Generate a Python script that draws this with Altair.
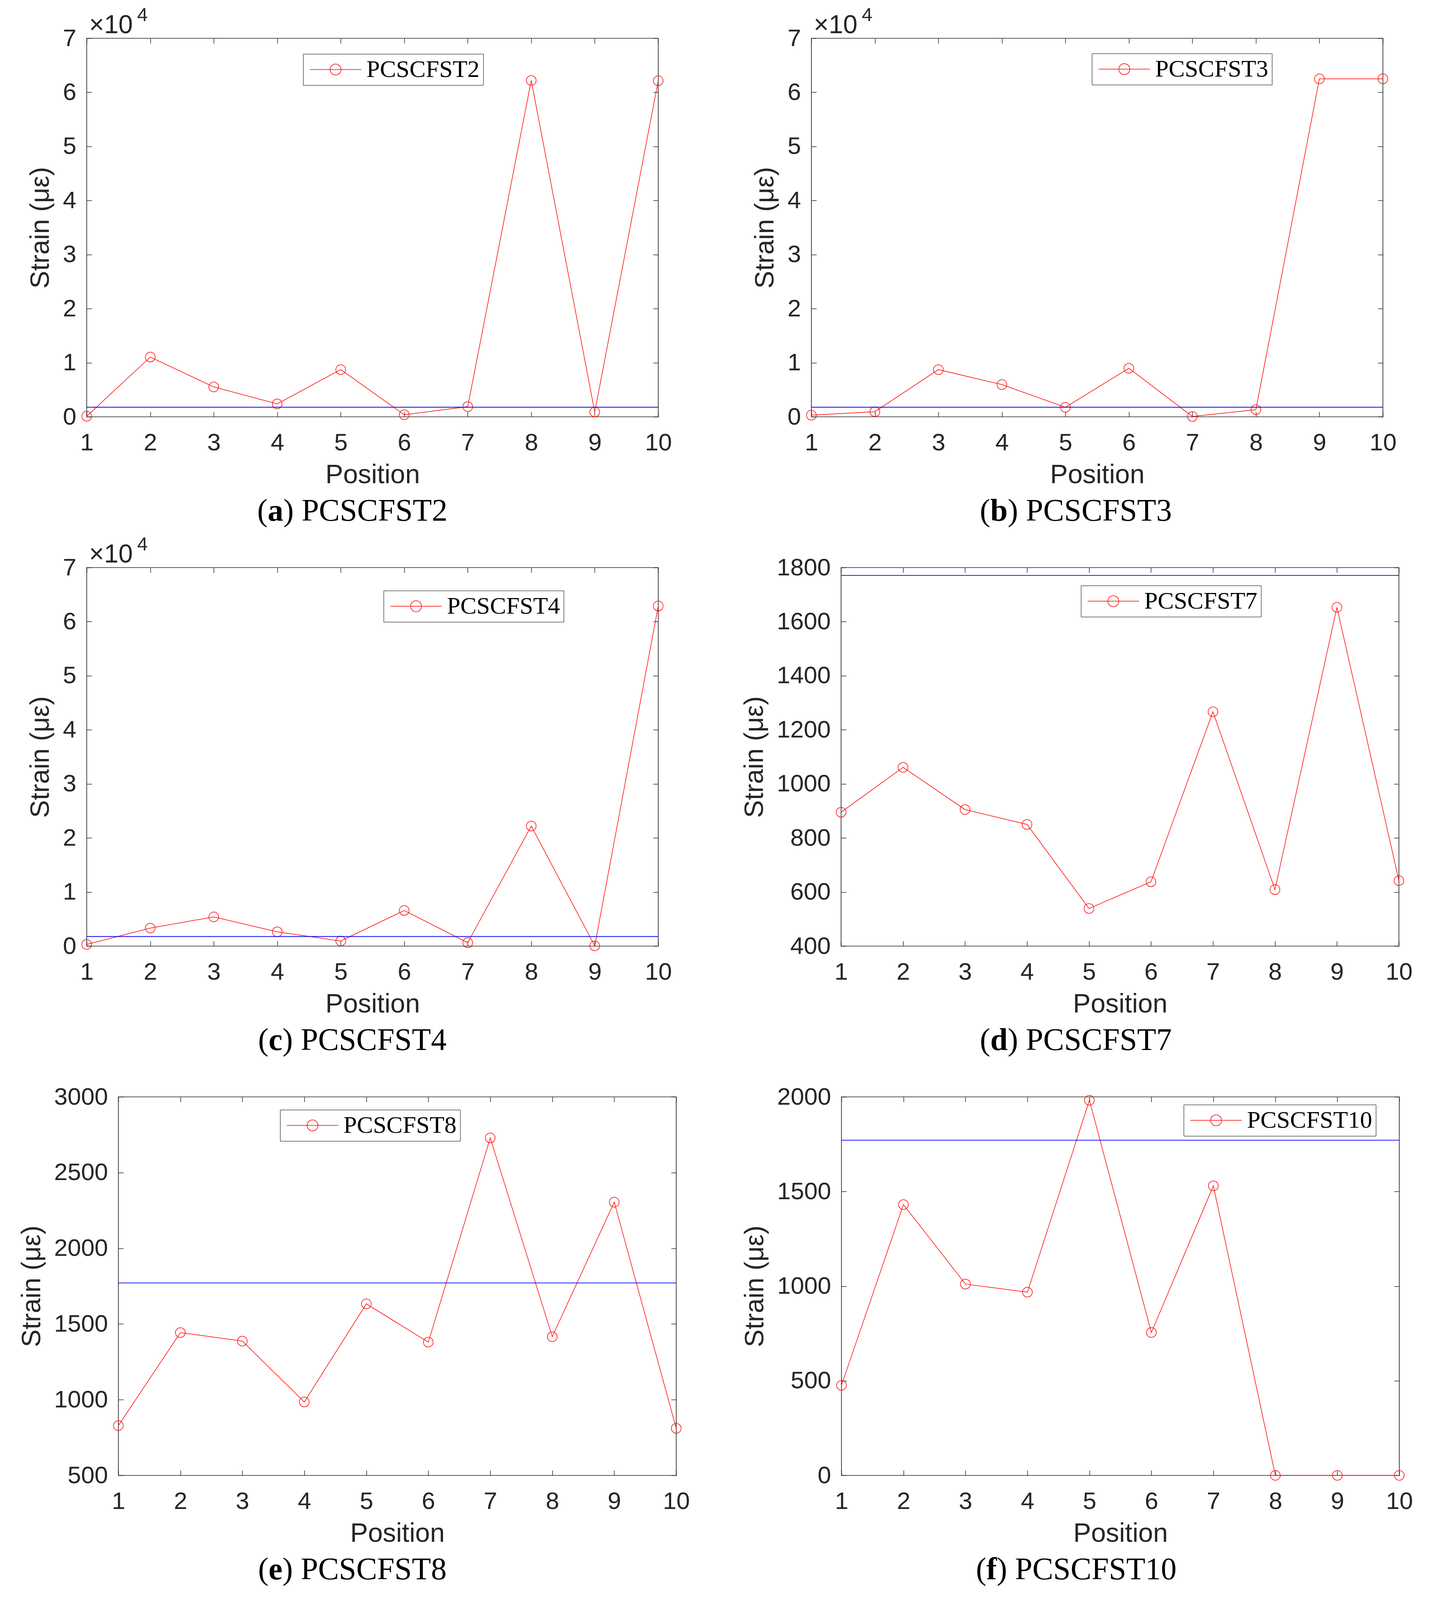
import altair as alt
import pandas as pd

# ---------------- data ----------------
positions = [1, 2, 3, 4, 5, 6, 7, 8, 9, 10]
series_names = ["PCSCFST2", "PCSCFST3", "PCSCFST4", "PCSCFST7", "PCSCFST8", "PCSCFST10"]
caption_letters = ["a", "b", "c", "d", "e", "f"]

strain_pcscfst2 = [100, 11050, 5520, 2390, 8730, 380, 1880, 62200, 900, 62150]
strain_pcscfst3 = [300, 940, 8730, 5960, 1760, 8980, 50, 1320, 62500, 62500]
strain_pcscfst4 = [310, 3330, 5400, 2640, 940, 6590, 630, 22200, 50, 62900]
strain_pcscfst7 = [895, 1061, 905, 850, 539, 638, 1267, 609, 1653, 642]
strain_pcscfst8 = [829, 1443, 1387, 985, 1633, 1380, 2729, 1416, 2305, 811]
strain_pcscfst10 = [476, 1431, 1011, 968, 1982, 755, 1530, 0, 0, 0]
strains = [strain_pcscfst2, strain_pcscfst3, strain_pcscfst4,
           strain_pcscfst7, strain_pcscfst8, strain_pcscfst10]

threshold = [1771]

y_domains = [[0, 70000], [0, 70000], [0, 70000], [400, 1800], [500, 3000], [0, 2000]]
y_ticks = [
    [0, 10000, 20000, 30000, 40000, 50000, 60000, 70000],
    [0, 10000, 20000, 30000, 40000, 50000, 60000, 70000],
    [0, 10000, 20000, 30000, 40000, 50000, 60000, 70000],
    [400, 600, 800, 1000, 1200, 1400, 1600, 1800],
    [500, 1000, 1500, 2000, 2500, 3000],
    [0, 500, 1000, 1500, 2000],
]
scaled_1e4 = [True, True, True, False, False, False]

# ---------------- layout / style ----------------
V = 0.878   # vertical compression so the whole figure fits the rendered page height
widths = [1463, 1463, 1463, 1428, 1428, 1428]
H = round(1104 * V)
LEFT_EXT = -212
TOP_EXT, BOT_EXT = round(-100 * V), round(1438 * V)
legend_pos = [(554, 46), (718, 44), (760, 67), (614, 52), (414, 38), (876, 23)]
caption_cx = [680, 677, 680, 601, 599, 601]

AX = "#262626"
SANS = "Liberation Sans"
SERIF = "Liberation Serif"
TICK_FS = 62
TITLE_FS = 68
CAP_FS = 80
LEG_FS = 62
SYMBOL_PATH = "M-4.7,0H4.7M1,0A1,1 0 1,1 -1,0A1,1 0 1,1 1,0"

serif_w = {"(": 0.333, ")": 0.333, " ": 0.25, "P": 0.556, "C": 0.667, "S": 0.556,
           "F": 0.556, "T": 0.611, "0": 0.5, "1": 0.5, "2": 0.5, "3": 0.5,
           "4": 0.5, "7": 0.5, "8": 0.5}
bold_w = {"a": 0.5, "b": 0.556, "c": 0.444, "d": 0.556, "e": 0.444, "f": 0.333}

one_df = pd.DataFrame({"k": [0]})


def text_layer(txt, x, y, size, font, align="left", weight="normal", color="black"):
    return alt.Chart(one_df).mark_text(
        text=txt, font=font, fontSize=size, align=align, baseline="alphabetic",
        fontWeight=weight, color=color
    ).encode(x=alt.value(x), y=alt.value(y))


def anchor(x, y):
    return alt.Chart(one_df).mark_point(opacity=0, size=1, strokeWidth=0).encode(
        x=alt.value(x), y=alt.value(y))


def panel(i, left_anchor):
    w = widths[i]
    name = series_names[i]
    df = pd.DataFrame({"Position": positions, "Strain": strains[i], "Series": [name] * 10})
    xs = alt.Scale(domain=[1, 10], nice=False, zero=False)
    ys = alt.Scale(domain=y_domains[i], nice=False, zero=False)
    ylab = "format(datum.value / 10000, 'd')" if scaled_1e4[i] else "format(datum.value, 'd')"
    lx, ly = legend_pos[i]

    line = alt.Chart(df).mark_line(
        strokeWidth=1.5,
        point=alt.OverlayMarkDef(shape="circle", filled=False, size=625, strokeWidth=1.5),
    ).encode(
        x=alt.X("Position:Q", scale=xs, axis=alt.Axis(
            orient="bottom", values=positions, format="d", ticks=False, tickSize=0,
            domain=False, grid=False, labelFont=SANS, labelFontSize=TICK_FS, labelColor=AX,
            labelPadding=36, labelFlush=False, labelOverlap=False,
            title="Position", titleFont=SANS, titleFontSize=TITLE_FS, titleFontWeight="normal",
            titleColor=AX, titlePadding=18)),
        y=alt.Y("Strain:Q", scale=ys, axis=alt.Axis(
            orient="left", values=y_ticks[i], labelExpr=ylab, ticks=False, tickSize=0,
            domain=False, grid=False, labelFont=SANS, labelFontSize=TICK_FS, labelColor=AX,
            labelPadding=27, labelFlush=False, labelOverlap=False,
            title="Strain (με)", titleFont=SANS, titleFontSize=TITLE_FS, titleFontWeight="normal",
            titleColor=AX, titlePadding=22)),
        stroke=alt.Stroke("Series:N", scale=alt.Scale(domain=[name], range=["#FF0000"]),
                          legend=alt.Legend(
                              title=None, orient="none", legendX=lx, legendY=round(ly * V),
                              symbolType=SYMBOL_PATH, symbolSize=784, symbolStrokeWidth=1.5,
                              symbolFillColor="transparent", symbolStrokeColor="#FF0000",
                              symbolOffset=43, labelOffset=48, labelFont=SERIF,
                              labelFontSize=LEG_FS, labelColor="black", labelLimit=2000,
                              padding=9, strokeColor="black", fillColor="white")),
    )

    df_thr = pd.DataFrame({"Threshold": threshold})
    rule = alt.Chart(df_thr).mark_rule(color="#0000FF", strokeWidth=1.8).encode(
        y=alt.Y("Threshold:Q", scale=ys, axis=None)
    )

    tick_style = dict(labels=False, domain=False, grid=False, ticks=True, tickSize=13,
                      tickColor=AX, tickWidth=1.5, title=None)
    ticks_a = alt.Chart(df).mark_point(opacity=0, size=1).encode(
        x=alt.X("Position:Q", scale=xs, axis=alt.Axis(orient="top", offset=-H, values=positions, **tick_style)),
        y=alt.Y("Strain:Q", scale=ys, axis=alt.Axis(orient="right", offset=-w, values=y_ticks[i], **tick_style)),
    )
    ticks_b = alt.Chart(df).mark_point(opacity=0, size=1).encode(
        x=alt.X("Position:Q", scale=xs, axis=alt.Axis(orient="bottom", offset=-H, values=positions, **tick_style)),
        y=alt.Y("Strain:Q", scale=ys, axis=alt.Axis(orient="left", offset=-w, values=y_ticks[i], **tick_style)),
    )

    # caption "(x) NAME" with bold letter
    letter = caption_letters[i]
    rest = ") " + name
    total = (serif_w["("] + bold_w[letter] + sum(serif_w[c] for c in rest)) * CAP_FS
    x0 = caption_cx[i] - total / 2
    cy = H + round(303 * V)
    cap = [
        text_layer("(", x0, cy, CAP_FS, SERIF),
        text_layer(letter, x0 + serif_w["("] * CAP_FS, cy, CAP_FS, SERIF, weight="bold"),
        text_layer(rest, x0 + (serif_w["("] + bold_w[letter]) * CAP_FS, cy, CAP_FS, SERIF),
    ]
    layers = [line, rule, ticks_a, ticks_b] + cap
    if scaled_1e4[i]:
        layers += [
            text_layer("×10", 6, round(-15 * V), 66, SANS, color=AX),
            text_layer("4", 129, round(-50 * V), 49, SANS, color=AX),
        ]
    layers += [anchor(0, TOP_EXT), anchor(0, BOT_EXT)]
    if left_anchor:
        layers += [anchor(LEFT_EXT, 0)]
    return alt.layer(*layers).resolve_axis(x="independent", y="independent").properties(
        width=w, height=H)


def spacer(width, with_anchor):
    layers = [anchor(0, TOP_EXT), anchor(0, BOT_EXT)]
    if with_anchor:
        layers.append(anchor(LEFT_EXT, 0))
    return alt.layer(*layers).properties(
        width=width, height=H, view=alt.ViewBackground(stroke="transparent"))


pa, pb, pc, pd_, pe, pf = [panel(i, i in (0, 2)) for i in range(6)]

row1 = alt.hconcat(pa, pb, spacing=392, bounds="flush").resolve_scale(stroke="independent")
row2 = alt.hconcat(pc, pd_, spacing=468, bounds="flush").resolve_scale(stroke="independent")
row3 = alt.hconcat(spacer(81, True), pe, spacer(423, False), pf,
                   spacing=0, bounds="flush").resolve_scale(stroke="independent")

chart = alt.vconcat(row1, row2, row3, spacing=0).resolve_scale(
    stroke="independent"
).properties(
    padding=0,
    background="white",
).configure_view(stroke=AX, strokeWidth=1.7).configure_axis(grid=False)

chart.save("out.html", embed_options={"renderer": "svg", "actions": False})
